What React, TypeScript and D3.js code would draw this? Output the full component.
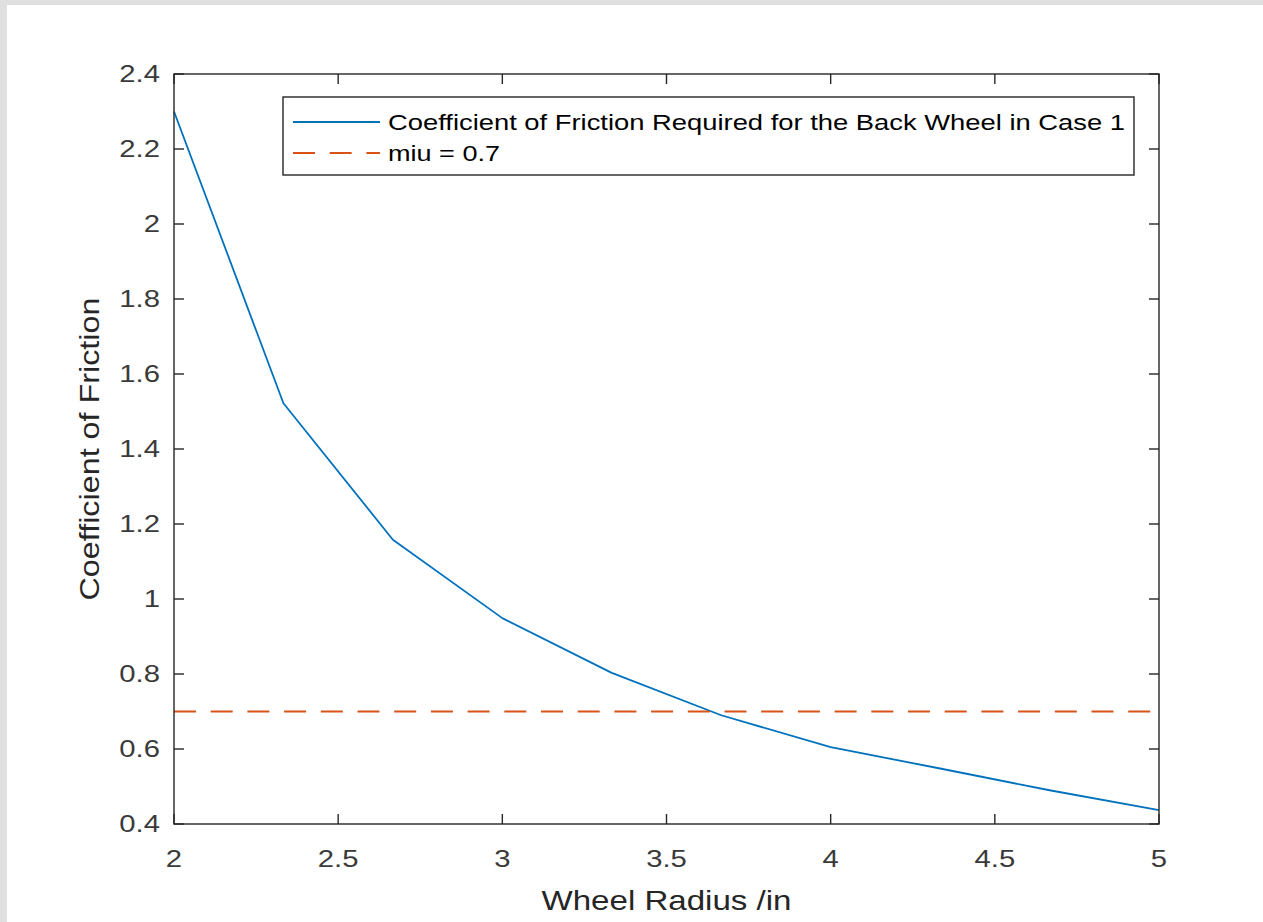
import React from "react";
import * as d3 from "d3";

// Wheel radius (in) and the friction coefficient needed at the back wheel
const radius = [2, 2.3333, 2.6667, 3, 3.3333, 3.6667, 4, 4.3333, 4.6667, 5];
const frictionRequired = [2.3, 1.522, 1.158, 0.949, 0.803, 0.69, 0.605, 0.548, 0.49, 0.437];
const miu = 0.7;

const xTicks = [2, 2.5, 3, 3.5, 4, 4.5, 5];
const yTicks = [0.4, 0.6, 0.8, 1, 1.2, 1.4, 1.6, 1.8, 2, 2.2, 2.4];

const seriesNames = ["Coefficient of Friction Required for the Back Wheel in Case 1", "miu = 0.7"];
const xLabel = "Wheel Radius /in";
const yLabel = "Coefficient of Friction";

const W = 1263;
const H = 922;
const plot = { left: 174, right: 1159, top: 74, bottom: 824 };
const axisColor = "#262626";
const tickColor = "#3a3a3a";
const blue = "#0072BD";
const orange = "#D95319";
const font = "'Liberation Sans', Arial, Helvetica, sans-serif";
const stretch = 1.22; // horizontal glyph stretch of the figure text

export default function App() {
  const x = d3.scaleLinear().domain([2, 5]).range([plot.left, plot.right]);
  const y = d3.scaleLinear().domain([0.4, 2.4]).range([plot.bottom, plot.top]);
  const line = d3
    .line<number>()
    .x((_, i) => x(radius[i]))
    .y((d) => y(d));

  const tickLen = 10;
  const legend = { x: 283, y: 97, w: 851, h: 78 };

  return (
    <svg
      width={W}
      height={H}
      style={{ position: "absolute", left: 0, top: 0, display: "block" }}
      fontFamily={font}
    >
      <rect x={0} y={0} width={W} height={H} fill="#ffffff" />
      <rect x={0} y={0} width={W} height={5} fill="#e0e0e0" />
      <rect x={0} y={0} width={7} height={H} fill="#e0e0e0" />

      {/* data */}
      <path d={line(frictionRequired) || ""} fill="none" stroke={blue} strokeWidth={1.8} strokeLinejoin="round" />
      <line
        x1={x(2)}
        x2={x(5)}
        y1={y(miu)}
        y2={y(miu)}
        stroke={orange}
        strokeWidth={1.8}
        strokeDasharray="22 14.7"
      />

      {/* box */}
      <rect
        x={plot.left}
        y={plot.top}
        width={plot.right - plot.left}
        height={plot.bottom - plot.top}
        fill="none"
        stroke={axisColor}
        strokeWidth={1.4}
      />

      {/* x ticks */}
      {xTicks.map((t) => (
        <g key={"x" + t}>
          <line x1={x(t)} x2={x(t)} y1={plot.bottom} y2={plot.bottom - tickLen} stroke={axisColor} strokeWidth={1.4} />
          <line x1={x(t)} x2={x(t)} y1={plot.top} y2={plot.top + tickLen} stroke={axisColor} strokeWidth={1.4} />
          <text
            transform={`translate(${x(t)},867) scale(${stretch},1)`}
            textAnchor="middle"
            fontSize={24}
            fill={tickColor}
          >
            {d3.format("")(t)}
          </text>
        </g>
      ))}

      {/* y ticks */}
      {yTicks.map((t) => (
        <g key={"y" + t}>
          <line x1={plot.left} x2={plot.left + tickLen} y1={y(t)} y2={y(t)} stroke={axisColor} strokeWidth={1.4} />
          <line x1={plot.right} x2={plot.right - tickLen} y1={y(t)} y2={y(t)} stroke={axisColor} strokeWidth={1.4} />
          <text
            transform={`translate(160,${y(t)}) scale(${stretch},1)`}
            dy="0.35em"
            textAnchor="end"
            fontSize={24}
            fill={tickColor}
          >
            {d3.format("")(t)}
          </text>
        </g>
      ))}

      {/* axis labels */}
      <text
        x={(plot.left + plot.right) / 2}
        y={910}
        textAnchor="middle"
        fontSize={28}
        fill={axisColor}
        textLength={250}
        lengthAdjust="spacingAndGlyphs"
      >
        {xLabel}
      </text>
      <text
        transform={`translate(99,${(plot.top + plot.bottom) / 2}) rotate(-90)`}
        textAnchor="middle"
        fontSize={28}
        fill={axisColor}
        textLength={303}
        lengthAdjust="spacingAndGlyphs"
      >
        {yLabel}
      </text>

      {/* legend */}
      <rect x={legend.x} y={legend.y} width={legend.w} height={legend.h} fill="#ffffff" stroke={axisColor} strokeWidth={1.4} />
      <line x1={293} x2={380} y1={122} y2={122} stroke={blue} strokeWidth={1.8} />
      <line x1={293} x2={380} y1={153} y2={153} stroke={orange} strokeWidth={1.8} strokeDasharray="22 14.7" />
      <text x={388} y={122} dy="0.35em" fontSize={22} fill="#000000" textLength={737} lengthAdjust="spacingAndGlyphs">
        {seriesNames[0]}
      </text>
      <text x={388} y={153} dy="0.35em" fontSize={22} fill="#000000" textLength={112} lengthAdjust="spacingAndGlyphs">
        {seriesNames[1]}
      </text>
    </svg>
  );
}
